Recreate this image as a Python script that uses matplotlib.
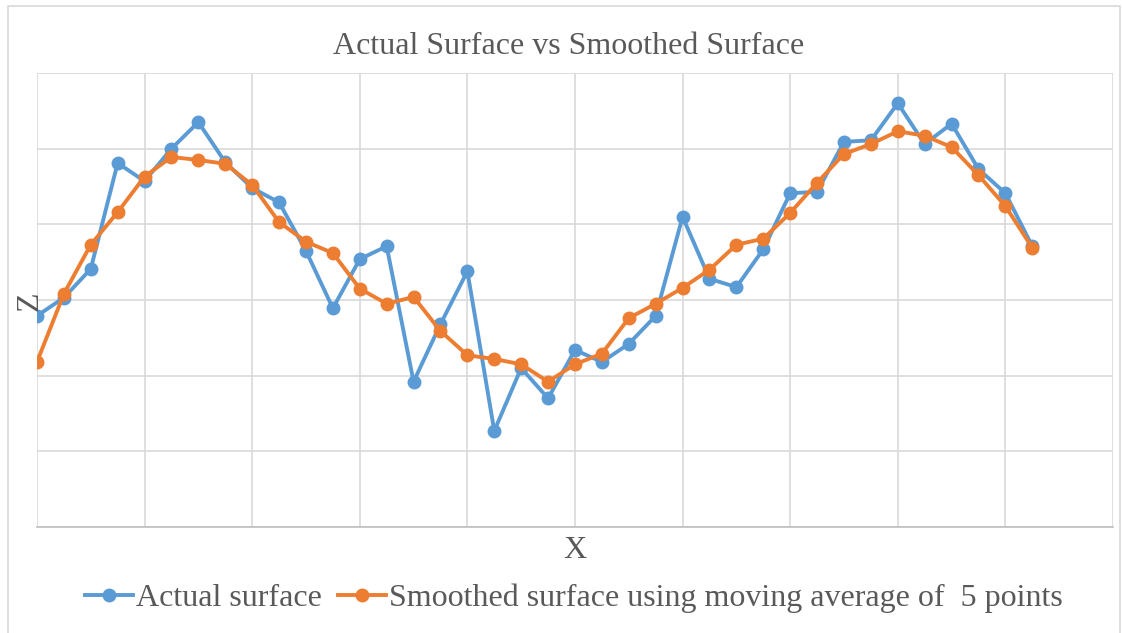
import matplotlib.pyplot as plt
from matplotlib.patches import Rectangle

# values (units = grid steps)
x = list(range(38))
actual = [2.79, 3.03, 3.41, 4.81, 4.57, 5.00, 5.35, 4.82, 4.48, 4.29,
          3.65, 2.89, 3.54, 3.71, 1.92, 2.68, 3.38, 1.27, 2.10, 1.70,
          2.34, 2.18, 2.42, 2.79, 4.10, 3.28, 3.17, 3.67, 4.41, 4.43,
          5.09, 5.11, 5.60, 5.06, 5.33, 4.73, 4.41, 3.71]
smoothed = [2.18, 3.08, 3.73, 4.16, 4.63, 4.89, 4.85, 4.80, 4.52, 4.03,
            3.77, 3.62, 3.15, 2.95, 3.04, 2.59, 2.27, 2.22, 2.15, 1.92,
            2.15, 2.29, 2.76, 2.95, 3.16, 3.40, 3.73, 3.81, 4.15, 4.55,
            4.93, 5.06, 5.23, 5.17, 5.02, 4.65, 4.24, 3.69]

plt.rcParams['font.family'] = ['Liberation Serif', 'DejaVu Serif']
txt = '#595959'
grid = '#D9D9D9'

fig = plt.figure(figsize=(11.23, 6.33), dpi=100)
fig.patches.append(Rectangle((0.007, -0.01), 0.99, 1.0, transform=fig.transFigure,
                             fill=False, edgecolor=grid, linewidth=1.2))

ax = fig.add_axes([0.0329, 0.1675, 0.9582, 0.7172])
ax.plot(x, actual, '-o', color='#5B9BD5', lw=2.8, ms=9, label='Actual surface', zorder=3)
ax.plot(x, smoothed, '-o', color='#ED7D31', lw=2.8, ms=9,
        label='Smoothed surface using moving average of  5 points', zorder=4)

ax.set_xlim(0, 40)
ax.set_ylim(0, 6)
ax.set_xticks(range(0, 41, 4))
ax.set_yticks(range(0, 7))
ax.tick_params(length=0, labelbottom=False, labelleft=False)
ax.grid(True, color=grid, lw=1.2)
for s in ['top', 'right', 'left']:
    ax.spines[s].set_visible(False)
ax.spines['bottom'].set_color('#BFBFBF')
ax.spines['bottom'].set_linewidth(1.2)

fig.text(0.506, 1 - 47 / 633, 'Actual Surface vs Smoothed Surface', ha='center', va='center',
         fontsize=23, color=txt)
fig.text(0.512, 1 - 551 / 633, 'X', ha='center', va='center', fontsize=23, color=txt)
fig.text(30 / 1123, 1 - 301 / 633, 'Z', ha='center', va='center', rotation=90,
         fontsize=23, color=txt)

fig.legend(loc='center', bbox_to_anchor=(0.511, 1 - 598 / 633), ncol=2, frameon=False,
           fontsize=23, labelcolor=txt, handlelength=1.5, handletextpad=0.1,
           columnspacing=0.5, borderpad=0)

fig.savefig('out.png', dpi=100)
